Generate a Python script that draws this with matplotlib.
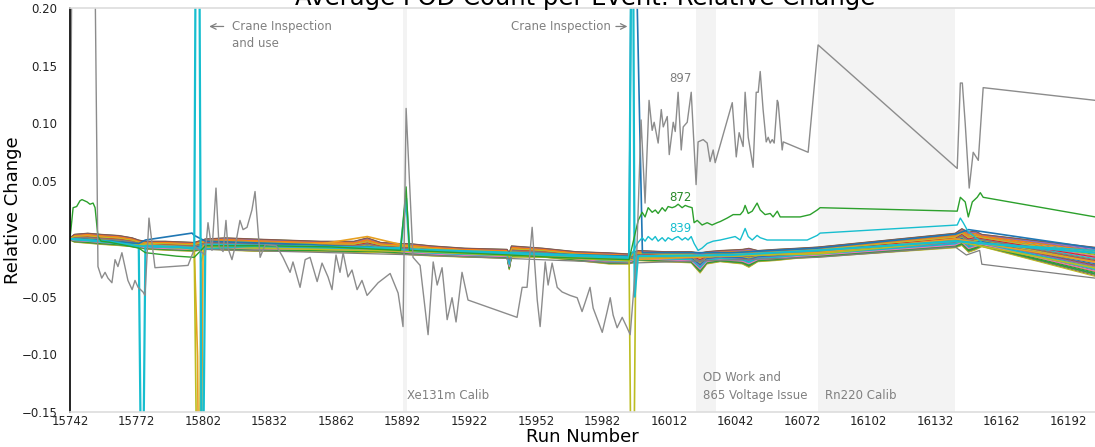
import numpy as np
import matplotlib
matplotlib.use("Agg")
import matplotlib.pyplot as plt

# ---- data ----
# bundle of ordinary channels: upper / lower envelope of the band
bundle_runs = [15742, 15744, 15750, 15756, 15764, 15770, 15773, 15776, 15785, 15798,
               15803, 15812, 15825, 15840, 15855, 15870, 15876, 15882, 15891, 15895,
               15905, 15920, 15939, 15940, 15941, 15955, 15970, 15985, 15994, 15998,
               16010, 16022, 16026, 16029, 16035, 16045, 16048, 16052, 16060, 16070,
               16079, 16141, 16144, 16147, 16150, 16153, 16204]
bundle_upper = [0.001, 0.004, 0.005, 0.004, 0.003, 0.001, -0.001, -0.002, -0.002, -0.003,
                0.000, 0.001, 0.000, -0.001, -0.002, -0.002, 0.001, -0.003, -0.004, -0.004,
                -0.006, -0.008, -0.009, -0.012, -0.006, -0.008, -0.011, -0.012, -0.013, -0.010,
                -0.011, -0.011, -0.012, -0.011, -0.010, -0.009, -0.008, -0.010, -0.009, -0.008,
                -0.007, 0.005, 0.009, 0.006, 0.007, 0.004, -0.007]
bundle_lower = [-0.001, -0.003, -0.004, -0.005, -0.006, -0.007, -0.008, -0.009, -0.010, -0.011,
                -0.009, -0.010, -0.011, -0.011, -0.011, -0.012, -0.012, -0.012, -0.013, -0.014,
                -0.015, -0.016, -0.017, -0.027, -0.016, -0.016, -0.019, -0.022, -0.022, -0.019,
                -0.020, -0.021, -0.030, -0.022, -0.020, -0.022, -0.025, -0.020, -0.019, -0.017,
                -0.016, -0.008, -0.006, -0.012, -0.010, -0.007, -0.033]
bundle_frac = [0.52, 0.18, 0.75, 0.33, 0.91, 0.05, 0.64, 0.41, 0.27, 0.83,
               0.12, 0.58, 0.97, 0.36, 0.69, 0.22, 0.47, 0.88, 0.02, 0.61,
               0.30, 0.79, 0.15, 0.55, 0.94, 0.39, 0.71, 0.08, 0.50, 0.25,
               0.44, 0.86, 0.10, 0.66, 0.35, 0.99, 0.20, 0.57, 0.73, 0.31]

# channels that jump at the crane inspections
cyan_spike_runs = [15742, 15760, 15773, 15774.5, 15776, 15790, 15798, 15799, 15800, 15801.5,
                   15803, 15830, 15891, 15893.5, 15895, 15940, 15994, 15995.5, 15996.5, 15998,
                   16040, 16079, 16141, 16204]
cyan_spike_vals = [0.000, -0.003, -0.007, -0.30, -0.006, -0.007, -0.008, 0.40, 0.40, -0.30,
                   -0.005, -0.006, -0.008, 0.035, -0.009, -0.012, -0.016, 0.40, -0.05, -0.015,
                   -0.014, -0.010, -0.002, -0.012]
blue_spike_runs = [15742, 15773, 15776, 15797, 15798, 15803, 15850, 15900, 15994, 15995.5,
                   16000, 16040, 16079, 16141, 16147, 16204]
blue_spike_vals = [0.000, -0.004, -0.001, 0.005, 0.003, -0.002, -0.005, -0.010, -0.015, 0.40,
                   -0.012, -0.012, -0.008, 0.004, 0.008, -0.008]
orange_spike_runs = [15742, 15770, 15798, 15799.5, 15800.5, 15802, 15850, 15876, 15900, 15994,
                     16079, 16141, 16204]
orange_spike_vals = [0.000, -0.004, -0.008, -0.102, -0.35, -0.006, -0.006, 0.002, -0.009, -0.018,
                     -0.012, 0.000, -0.020]
olive_spike_runs = [15742, 15798, 15800, 15801, 15803, 15900, 15994, 15995.5, 15997, 16079,
                    16141, 16204]
olive_spike_vals = [0.000, -0.009, -0.35, -0.02, -0.007, -0.011, -0.019, -0.35, -0.016, -0.013,
                    -0.002, -0.025]
gray_low_runs = [15742, 15800, 15900, 15994, 16079, 16141, 16146, 16149, 16152, 16153, 16204]
gray_low_vals = [0.000, -0.009, -0.014, -0.021, -0.016, -0.007, -0.014, -0.012, -0.010, -0.022, -0.034]

# channel 839
ch839_runs = [15742, 15760, 15773, 15790, 15798, 15830, 15891, 15895, 15940, 15994,
              15998.1, 15999.9, 16001.2, 16002.6, 16004.4, 16005.8, 16007.1, 16008.9, 16010.3, 16011.6,
              16013.4, 16014.8, 16016.1, 16017.9, 16019.3, 16020.6, 16022.0, 16023.3, 16025.1, 16026.9,
              16029.2, 16031.9, 16035.1, 16039.6, 16041.8, 16044.1, 16046.3, 16047.7, 16049.5, 16051.7,
              16053.1, 16056.2, 16062.1, 16074.3, 16078.8, 16080.1, 16141.9, 16143.3, 16144.6, 16146.9,
              16153.6, 16204.1]
ch839_vals = [0.000, -0.002, -0.006, -0.007, -0.009, -0.006, -0.009, -0.010, -0.013, -0.017,
              -0.003, 0.001, -0.002, 0.002, -0.001, 0.002, -0.002, 0.001, -0.002, 0.001,
              -0.001, 0.001, 0.002, -0.001, 0.001, -0.001, 0.002, -0.004, -0.010, -0.008,
              -0.004, -0.002, -0.001, 0.001, 0.002, -0.001, 0.009, 0.002, -0.001, 0.003,
              0.001, -0.001, -0.001, -0.001, 0.003, 0.005, 0.012, 0.018, 0.014, 0.006,
              -0.004, -0.010]

# channel 872
ch872_runs = [15742, 15743.4, 15745, 15746.5, 15747.4, 15749.7, 15751, 15752.4, 15753.3, 15754.6,
              15756, 15760, 15773, 15776, 15790, 15798, 15803, 15830, 15860, 15891,
              15893.5, 15895, 15940, 15960, 15994,
              15998.1, 15999.9, 16001.2, 16002.6, 16004.4, 16005.8, 16007.1, 16008.9, 16010.3, 16011.6,
              16013.4, 16014.8, 16016.1, 16017.9, 16019.3, 16020.6, 16022.4, 16023.3, 16024.7, 16026.9,
              16029.2, 16031.4, 16033.7, 16035.1, 16038.2, 16040.9, 16044.1, 16045.4, 16046.3, 16047.7,
              16049.5, 16051.7, 16053.1, 16055.3, 16057.6, 16058.9, 16060.8, 16062.1, 16065.3, 16071.1,
              16075.6, 16078.8, 16080.1, 16141.9, 16143.3, 16145.5, 16146.9, 16148.7, 16150.9, 16152.3,
              16153.6, 16204.1]
ch872_vals = [0.000, 0.027, 0.028, 0.033, 0.034, 0.032, 0.030, 0.031, 0.027, 0.002,
              -0.002, -0.003, -0.008, -0.012, -0.015, -0.016, -0.006, -0.006, -0.007, -0.010,
              0.045, -0.010, -0.014, -0.016, -0.018,
              0.016, 0.023, 0.019, 0.027, 0.023, 0.025, 0.022, 0.027, 0.024, 0.028,
              0.027, 0.028, 0.030, 0.027, 0.029, 0.028, 0.027, 0.014, 0.016, 0.012,
              0.014, 0.012, 0.014, 0.015, 0.018, 0.021, 0.021, 0.024, 0.029, 0.022,
              0.024, 0.031, 0.025, 0.021, 0.022, 0.019, 0.024, 0.019, 0.019, 0.019,
              0.021, 0.025, 0.027, 0.024, 0.036, 0.032, 0.019, 0.032, 0.036, 0.040,
              0.036, 0.019]

# channel 897
ch897_runs = [15742, 15743.4, 15752.4, 15754.6, 15756.3, 15757.8, 15759.1, 15760.9, 15762.3, 15763.6,
              15765.4, 15768.1, 15770.0, 15771.3, 15772.7, 15774.9, 15775.8, 15777.6, 15780.3, 15795.2,
              15798.4, 15802.9, 15804.2, 15806.0, 15807.8, 15809.2, 15811.0, 15812.3, 15813.2, 15815.0,
              15816.4, 15818.6, 15820.0, 15821.8, 15824.0, 15825.4, 15827.7, 15830, 15835, 15838,
              15841.2, 15842.5, 15845.7, 15848.0, 15850.2, 15853.4, 15855.6, 15858.3, 15860.1, 15861.9,
              15863.7, 15865.1, 15867.3, 15869.1, 15871.4, 15873.6, 15875.9, 15880.9, 15886.3, 15889.9,
              15892.1, 15893.5, 15896.6, 15899.8, 15903.4, 15905.7, 15907.5, 15909.7, 15912.0, 15914.2,
              15916.0, 15918.7, 15921.4, 15943.5, 15945.8, 15948.0, 15950.3, 15952.6, 15953.9, 15956.2,
              15957.5, 15959.3, 15961.6, 15963.8, 15967.4, 15970.6, 15972.8, 15974.2, 15976.4, 15977.8,
              15981.9, 15984.1, 15985.5, 15986.8, 15988.6, 15990.9, 15993.1, 15994.5, 15997.5, 15999.4,
              16001.2, 16003.0, 16004.4, 16005.3, 16007.1, 16008.5, 16009.4, 16011.2, 16012.1, 16013.9,
              16014.8, 16016.1, 16017.5, 16018.4, 16020.2, 16022.0, 16024.2, 16025.1, 16027.4, 16029.2,
              16030.5, 16031.9, 16032.8, 16040.5, 16042.3, 16043.6, 16045.4, 16046.3, 16047.7, 16049.9,
              16051.3, 16052.2, 16053.1, 16054.4, 16055.8, 16056.7, 16057.6, 16058.5, 16059.4, 16060.8,
              16061.2, 16063.0, 16063.5, 16074.7, 16079.2, 16141.9, 16143.3, 16144.2, 16145.5, 16147.3,
              16149.1, 16151.4, 16153.6, 16204.1]
ch897_vals = [0.000, 0.40, 0.40, -0.024, -0.034, -0.029, -0.034, -0.038, -0.018, -0.024,
              -0.012, -0.036, -0.044, -0.036, -0.042, -0.046, -0.049, 0.018, -0.025, -0.023,
              -0.007, -0.014, 0.014, -0.010, 0.044, -0.007, -0.011, 0.016, -0.008, -0.018,
              -0.007, 0.016, 0.008, 0.010, 0.025, 0.041, -0.016, -0.005, -0.006, -0.016,
              -0.029, -0.020, -0.042, -0.018, -0.016, -0.037, -0.021, -0.033, -0.044, -0.014,
              -0.029, -0.012, -0.033, -0.027, -0.044, -0.036, -0.049, -0.038, -0.030, -0.047,
              -0.076, 0.113, -0.016, -0.023, -0.083, -0.020, -0.040, -0.025, -0.070, -0.051,
              -0.072, -0.029, -0.053, -0.068, -0.042, -0.042, 0.010, -0.053, -0.076, -0.020,
              -0.040, -0.021, -0.042, -0.046, -0.049, -0.051, -0.063, -0.055, -0.042, -0.060,
              -0.081, -0.063, -0.051, -0.066, -0.077, -0.068, -0.077, -0.083, -0.010, 0.103,
              0.031, 0.120, 0.094, 0.101, 0.083, 0.112, 0.097, 0.106, 0.073, 0.101,
              0.093, 0.127, 0.077, 0.097, 0.101, 0.127, 0.047, 0.084, 0.086, 0.083,
              0.067, 0.077, 0.066, 0.118, 0.071, 0.092, 0.080, 0.127, 0.088, 0.062,
              0.127, 0.127, 0.145, 0.112, 0.084, 0.088, 0.083, 0.086, 0.083, 0.120,
              0.118, 0.077, 0.084, 0.075, 0.168, 0.061, 0.135, 0.135, 0.100, 0.044,
              0.075, 0.068, 0.131, 0.120]

shaded = [(15892, 15894), (16024, 16033), (16079, 16141)]
xtick_runs = [15742, 15772, 15802, 15832, 15862, 15892, 15922, 15952, 15982,
              16012, 16042, 16072, 16102, 16132, 16162, 16192]

tab10 = plt.rcParams['axes.prop_cycle'].by_key()['color']
note_color = '#808080'

fig = plt.figure(figsize=(10.95, 4.47), dpi=100)
ax = fig.add_axes([70 / 1095, 35 / 447, 1025 / 1095, 404 / 447])

for lo, hi in shaded:
    ax.axvspan(lo, hi, color='#f3f3f3', lw=0, zorder=0)

up = np.array(bundle_upper)
low = np.array(bundle_lower)
for i, f in enumerate(bundle_frac):
    ax.plot(bundle_runs, low + f * (up - low), color=tab10[i % 10], lw=0.8)

ax.plot(gray_low_runs, gray_low_vals, color=tab10[7], lw=0.9)
ax.plot(orange_spike_runs, orange_spike_vals, color='#e8a020', lw=1.2)
ax.plot(olive_spike_runs, olive_spike_vals, color=tab10[8], lw=1.2)
ax.plot(blue_spike_runs, blue_spike_vals, color=tab10[0], lw=1.2)
ax.plot(cyan_spike_runs, cyan_spike_vals, color=tab10[9], lw=1.6)
ax.plot(ch839_runs, ch839_vals, color=tab10[9], lw=1.0)
ax.plot(ch872_runs, ch872_vals, color=tab10[2], lw=1.0)
ax.plot(ch897_runs, ch897_vals, color='#8c8c8c', lw=1.0)

ax.set_xlim(15742, 16204)
ax.set_ylim(-0.15, 0.20)
ax.set_xticks(xtick_runs)
ax.set_xticklabels([str(r) for r in xtick_runs])
ax.set_yticks([-0.15, -0.10, -0.05, 0.0, 0.05, 0.10, 0.15, 0.20])
ax.tick_params(axis='both', length=0, labelsize=8.5, labelcolor='#222222')
ax.tick_params(axis='y', pad=9)
ax.tick_params(axis='x', pad=2)

ax.spines['left'].set_color('black')
ax.spines['left'].set_linewidth(1.2)
for s in ('top', 'bottom'):
    ax.spines[s].set_color('#dddddd')
    ax.spines[s].set_linewidth(1.2)
ax.spines['right'].set_visible(False)

ax.set_xlabel('Run Number', fontsize=13, labelpad=0)
ax.set_ylabel('Relative Change', fontsize=13, labelpad=0)
fig.text(0.534, 1 - 4.5 / 447, 'Average POD Count per Event: Relative Change',
         fontsize=17.5, ha='center', va='baseline')

# annotations
ax.annotate('', xy=(15803.5, 0.184), xytext=(15812.5, 0.184),
            arrowprops=dict(arrowstyle='->', color=note_color, lw=0.9))
ax.text(15815, 0.184, 'Crane Inspection', fontsize=8.5, color=note_color, va='center')
ax.text(15815, 0.169, 'and use', fontsize=8.5, color=note_color, va='center')
ax.text(15986, 0.184, 'Crane Inspection', fontsize=8.5, color=note_color,
        va='center', ha='right')
ax.annotate('', xy=(15994.5, 0.184), xytext=(15986.8, 0.184),
            arrowprops=dict(arrowstyle='->', color=note_color, lw=0.9))

ax.text(16017, 0.139, '897', fontsize=8.5, color='#7f7f7f', ha='center', va='center')
ax.text(16017, 0.036, '872', fontsize=8.5, color='#2a8a2a', ha='center', va='center')
ax.text(16017, 0.009, '839', fontsize=8.5, color=tab10[9], ha='center', va='center')

ax.text(15894, -0.136, 'Xe131m Calib', fontsize=8.5, color=note_color, va='center')
ax.text(16027.2, -0.120, 'OD Work and', fontsize=8.5, color=note_color, va='center')
ax.text(16027.2, -0.136, '865 Voltage Issue', fontsize=8.5, color=note_color, va='center')
ax.text(16082.4, -0.136, 'Rn220 Calib', fontsize=8.5, color=note_color, va='center')

fig.savefig('out.png', dpi=100)
